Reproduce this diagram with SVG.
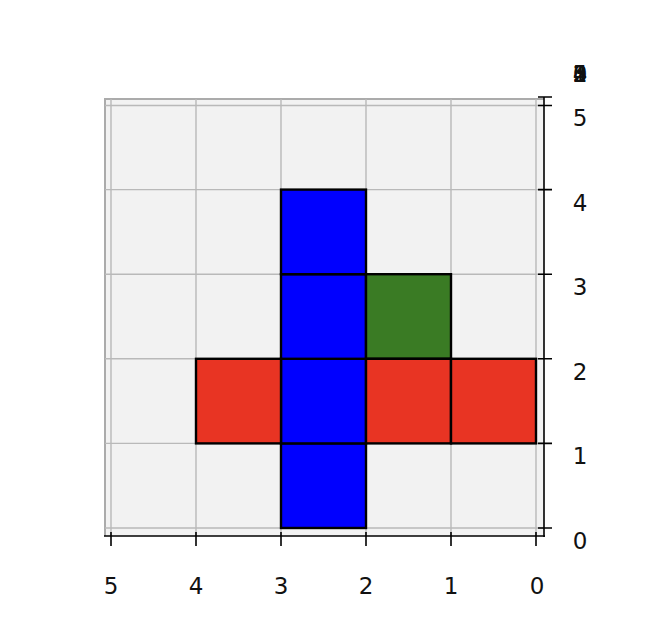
<svg xmlns="http://www.w3.org/2000/svg" width="660" height="644" viewBox="0 0 660 644">
<style>
.grid{stroke:#b9b9b9;stroke-width:1.4;fill:none}
.edge{stroke:#ababab;stroke-width:2;fill:none}
.ax{stroke:#000;stroke-width:1.6;fill:none}
.cell{stroke:#000;stroke-width:2.4}
.lbl{font-family:"DejaVu Sans",sans-serif;font-size:23px;fill:#111;text-anchor:middle}
</style>
<rect width="660" height="644" fill="#fff"/>
<g id="pane">
<rect x="104" y="98" width="440" height="438" fill="#f2f2f2"/>
<path class="edge" d="M105 536V99H544"/>
</g>
<g id="grid">
<path class="grid" d="M111 99V536M196 99V536M281 99V536M366 99V536M451 99V536M536 99V536"/>
<path class="grid" d="M105 105.5H544M105 189.6H544M105 274.2H544M105 358.8H544M105 443.4H544M105 528H544"/>
</g>
<g id="cells">
<g id="blue0"><rect class="cell" x="281" y="443.4" width="85" height="84.6" fill="#0000ff"/></g>
<g id="blue1"><rect class="cell" x="281" y="358.8" width="85" height="84.6" fill="#0000ff"/></g>
<g id="blue2"><rect class="cell" x="281" y="274.2" width="85" height="84.6" fill="#0000ff"/></g>
<g id="blue3"><rect class="cell" x="281" y="189.6" width="85" height="84.6" fill="#0000ff"/></g>
<g id="green"><rect class="cell" x="366" y="274.2" width="85" height="84.6" fill="#3a7b24"/></g>
<g id="red1"><rect class="cell" x="196" y="358.8" width="85" height="84.6" fill="#e83423"/></g>
<g id="red2"><rect class="cell" x="366" y="358.8" width="85" height="84.6" fill="#e83423"/></g>
<g id="red3"><rect class="cell" x="451" y="358.8" width="85" height="84.6" fill="#e83423"/></g>
</g>
<g id="axes">
<path class="ax" d="M104 536H545M544 97V537"/>
<path class="ax" d="M111 532V546M196 532V546M281 532V546M366 532V546M451 532V546M536 532V546"/>
<path class="ax" d="M538 528H552M538 443.4H552M538 358.8H552M538 274.2H552M538 189.6H552M538 105.5H552M538 97H552"/>
</g>
<g id="labels">
<text class="lbl" x="111" y="594">5</text>
<text class="lbl" x="196" y="594">4</text>
<text class="lbl" x="281" y="594">3</text>
<text class="lbl" x="366" y="594">2</text>
<text class="lbl" x="451" y="594">1</text>
<text class="lbl" x="537" y="594">0</text>
<text class="lbl" x="580" y="548.5">0</text>
<text class="lbl" x="580" y="464">1</text>
<text class="lbl" x="580" y="379.5">2</text>
<text class="lbl" x="580" y="295">3</text>
<text class="lbl" x="580" y="210.5">4</text>
<text class="lbl" x="580" y="126">5</text>
<text class="lbl" x="580" y="82">0</text>
<text class="lbl" x="580" y="82">1</text>
<text class="lbl" x="580" y="82">2</text>
<text class="lbl" x="580" y="82">3</text>
<text class="lbl" x="580" y="82">4</text>
<text class="lbl" x="580" y="82">5</text>
</g>
</svg>
